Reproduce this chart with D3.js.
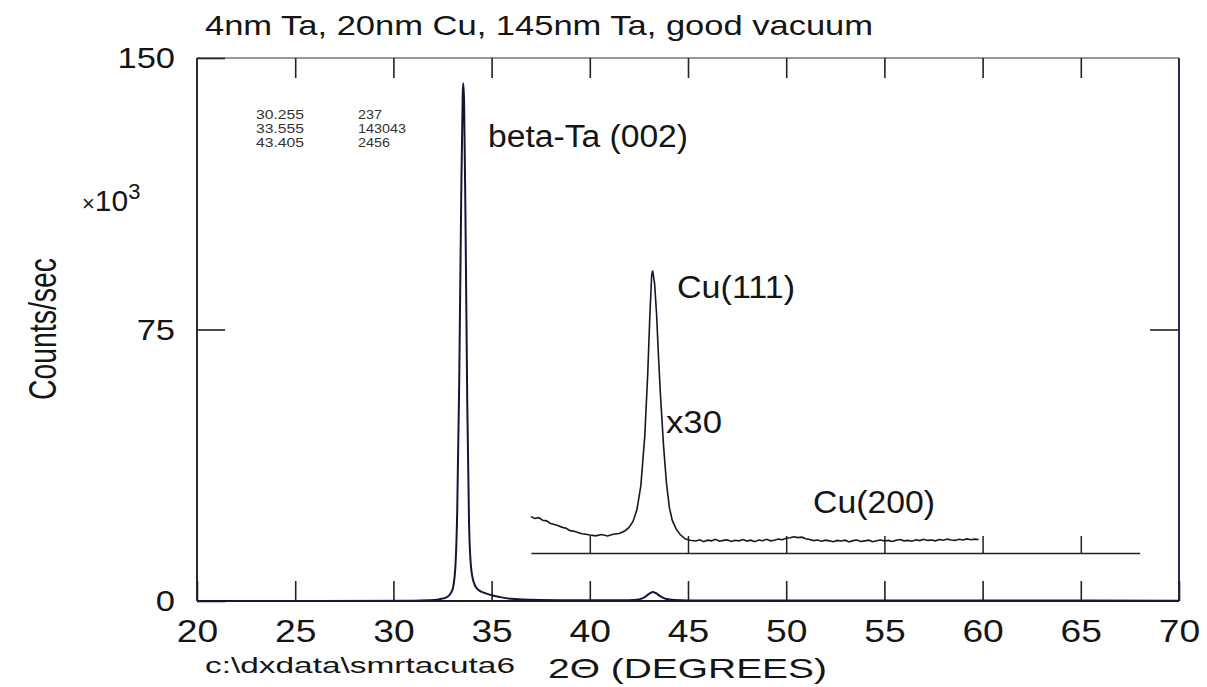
<!DOCTYPE html>
<html>
<head>
<meta charset="utf-8">
<script src="https://cdn.jsdelivr.net/npm/d3@7"></script>
<style>
  html, body { margin: 0; padding: 0; background: #fff; }
  svg { display: block; font-family: "Liberation Sans", Arial, Helvetica, sans-serif; }
</style>
</head>
<body>
<svg id="svg" width="1207" height="687"></svg>
<script>
// main scan, 2-theta (deg) vs counts/sec
var scanAngle = [20, 31.0, 31.8, 32.3, 32.7, 33.0, 33.15, 33.25, 33.35, 33.45, 33.53, 33.555, 33.6, 33.68, 33.76, 33.85, 33.95, 34.1, 34.3, 34.6, 35.0, 35.5, 36.0, 37.0, 39.0, 41.0, 42.0, 42.5, 42.8, 43.05, 43.2, 43.35, 43.6, 43.9, 44.3, 45.0, 50.0, 60.0, 70.0]
var scanCounts = [0, 80, 200, 450, 1000, 3000, 9000, 25000, 60000, 110000, 140000, 143043, 138000, 100000, 55000, 22000, 9500, 5000, 3200, 2300, 1600, 1000, 600, 350, 200, 180, 220, 450, 1100, 2100, 2456, 2200, 1300, 550, 250, 120, 110, 120, 100]

// inset, same scan magnified x30 (counts/sec)
var insetAngle = [37.0, 37.2, 37.4, 37.6, 37.8, 38.0, 38.2, 38.4, 38.6, 38.8, 39.0, 39.2, 39.4, 39.6, 39.8, 40.0, 40.3, 40.6, 40.9, 41.2, 41.5, 41.8, 42.0, 42.2, 42.4, 42.6, 42.8, 42.95, 43.05, 43.15, 43.2, 43.3, 43.4, 43.5, 43.6, 43.75, 43.9, 44.05, 44.2, 44.4, 44.6, 44.85, 45.1,
  45.4, 45.6, 45.8, 46.0, 46.2, 46.4, 46.6, 46.8, 47.0, 47.2, 47.4, 47.6, 47.8, 48.0, 48.2, 48.4, 48.6, 48.8, 49.0, 49.2, 49.4, 49.6, 49.8, 50.0, 50.2, 50.4, 50.6, 50.8, 51.0, 51.2, 51.4, 51.6, 51.8, 52.0, 52.2, 52.4, 52.6, 52.8, 53.0, 53.2, 53.4, 53.6, 53.8, 54.0, 54.2, 54.4, 54.6, 54.8, 55.0, 55.2, 55.4, 55.6, 55.8, 56.0, 56.2, 56.4, 56.6, 56.8, 57.0, 57.2, 57.4, 57.6, 57.8, 58.0, 58.2, 58.4, 58.6, 58.8, 59.0, 59.2, 59.4, 59.6, 59.8, 60.0]
var insetCounts = [335, 318, 326, 302, 296, 272, 262, 250, 236, 228, 206, 200, 188, 178, 172, 165, 158, 170, 157, 172, 180, 205, 235, 290, 400, 620, 1080, 1650, 2150, 2560, 2600, 2480, 2200, 1800, 1450, 1000, 650, 420, 300, 220, 170, 130, 118,
  110, 122, 104, 118, 112, 126, 108, 116, 121, 106, 117, 112, 124, 110, 118, 104, 120, 113, 126, 112, 118, 128, 122, 136, 140, 150, 142, 146, 132, 124, 114, 120, 108, 118, 112, 104, 116, 110, 118, 102, 114, 120, 106, 112, 118, 104, 112, 120, 110, 116, 106, 118, 124, 112, 116, 108, 122, 114, 126, 116, 120, 112, 124, 118, 128, 120, 116, 126, 120, 130, 122, 128, 124]
var insetGain = 30

// peak list printed top left
var peakPos = ["30.255", "33.555", "43.405"]
var peakArea = ["237", "143043", "2456"]

var xTicks = [20, 25, 30, 35, 40, 45, 50, 55, 60, 65, 70]
var yTicks = [0, 75, 150]

var svg = d3.select("#svg")
var frame = { left: 197, right: 1179, top: 58, bottom: 601 }

var x = d3.scaleLinear().domain([20, 70]).range([frame.left, frame.right])
var y = d3.scaleLinear().domain([0, 150]).range([frame.bottom, frame.top])
// inset: counts x30 on the same thousand-count scale, raised baseline
var insetBase = 553
var yInset = d3.scaleLinear().domain([0, 150000 / insetGain]).range([insetBase, insetBase - (frame.bottom - frame.top)])
var xInset = d3.scaleLinear().domain([37, 68]).range([x(37), x(68)])

function addText(parent, px, py, str, size, width, anchor) {
    var t = parent.append("text")
        .attr("x", px)
        .attr("y", py)
        .attr("font-size", size)
        .attr("text-anchor", anchor || "start")
        .attr("fill", "#151515")
        .text(str)
    if (width) t.attr("textLength", width).attr("lengthAdjust", "spacingAndGlyphs")
    return t
}

function stretch(sel, k) {
    sel.each(function () {
        var w = this.getComputedTextLength()
        d3.select(this).attr("textLength", w * k).attr("lengthAdjust", "spacingAndGlyphs")
    })
}

// frame
svg.append("line").attr("x1", frame.left).attr("x2", frame.right).attr("y1", frame.top).attr("y2", frame.top)
    .attr("stroke", "#777").attr("stroke-width", 1.5)
svg.append("line").attr("x1", frame.left).attr("x2", frame.right).attr("y1", frame.bottom).attr("y2", frame.bottom)
    .attr("stroke", "#1a1a2a").attr("stroke-width", 2)
svg.append("line").attr("x1", frame.left).attr("x2", frame.left).attr("y1", frame.top).attr("y2", frame.bottom)
    .attr("stroke", "#2a2a3a").attr("stroke-width", 2)
svg.append("line").attr("x1", frame.right).attr("x2", frame.right).attr("y1", frame.top).attr("y2", frame.bottom)
    .attr("stroke", "#2a2a55").attr("stroke-width", 2)

// axes
var axB = svg.append("g")
    .attr("transform", "translate(0," + frame.bottom + ")")
    .call(d3.axisBottom(x).tickValues(xTicks).tickSizeInner(-20).tickSizeOuter(0).tickPadding(19))
var axT = svg.append("g")
    .attr("transform", "translate(0," + frame.top + ")")
    .call(d3.axisTop(x).tickValues(xTicks.slice(1, -1)).tickSizeInner(-20).tickSizeOuter(0).tickFormat(""))
var axL = svg.append("g")
    .attr("transform", "translate(" + frame.left + ",0)")
    .call(d3.axisLeft(y).tickValues(yTicks).tickSizeInner(-28).tickSizeOuter(0).tickPadding(22))
var axR = svg.append("g")
    .attr("transform", "translate(" + frame.right + ",0)")
    .call(d3.axisRight(y).tickValues([75]).tickSizeInner(-29).tickSizeOuter(0).tickFormat(""))

;[axB, axT, axL, axR].forEach(function (g) {
    g.select(".domain").remove()
    g.selectAll(".tick line").attr("stroke", "#222").attr("stroke-width", 1.6)
    g.selectAll("text").attr("fill", "#151515")
})
axB.attr("font-family", null).attr("font-size", 31)
stretch(axB.selectAll("text"), 1.2)
axL.attr("font-family", null).attr("font-size", 30)
stretch(axL.selectAll("text"), 1.15)

// main scan
var scan = scanAngle.map(function (a, i) { return [a, scanCounts[i] / 1000] })
var line = d3.line()
    .x(function (d) { return x(d[0]) })
    .y(function (d) { return y(d[1]) })
    .curve(d3.curveMonotoneX)

svg.append("path")
    .datum(scan)
    .attr("fill", "none")
    .attr("stroke", "#14143a")
    .attr("stroke-width", 2)
    .attr("d", line)

// inset x30
var inset = svg.append("g")
    .attr("transform", "translate(0," + insetBase + ")")
    .call(d3.axisBottom(xInset).tickValues([40, 45, 50, 55, 60, 65]).tickSizeInner(-17).tickSizeOuter(0).tickFormat(""))
inset.selectAll("path, line").attr("stroke", "#222").attr("stroke-width", 1.5)

var insetData = insetAngle.map(function (a, i) { return [a, insetCounts[i]] })
svg.append("path")
    .datum(insetData)
    .attr("fill", "none")
    .attr("stroke", "#161626")
    .attr("stroke-width", 1.6)
    .attr("d", d3.line()
        .x(function (d) { return x(d[0]) })
        .y(function (d) { return yInset(d[1]) }))

// texts
addText(svg, 205, 35, "4nm Ta, 20nm Cu, 145nm Ta, good vacuum", 28, 668)

var tbl = svg.append("g")
peakPos.forEach(function (p, i) {
    addText(tbl, 256, 119 + i * 14, p, 12.5, 48).attr("fill", "#333")
    addText(tbl, 358, 119 + i * 14, peakArea[i], 12.5, peakArea[i].length * 8).attr("fill", "#333")
})

addText(svg, 488, 147, "beta-Ta (002)", 31, 200)
addText(svg, 677, 298, "Cu(111)", 31, 118)
addText(svg, 666, 433, "x30", 31, 56)
addText(svg, 813, 513, "Cu(200)", 31, 122)

var pow = addText(svg, 82, 211, "\u00d7", 22, null)
pow.append("tspan").attr("font-size", 30).text("10")
pow.append("tspan").attr("dy", -12).attr("font-size", 22).text("3")

addText(svg, 0, 0, "Counts/sec", 38, 142, "middle")
    .attr("transform", "translate(56,329) rotate(-90)")

addText(svg, 205, 673, "c:\\dxdata\\smrtacuta6", 22, 310)
addText(svg, 548, 678, "2\u0398 (DEGREES)", 28, 279)
</script>
</body>
</html>
